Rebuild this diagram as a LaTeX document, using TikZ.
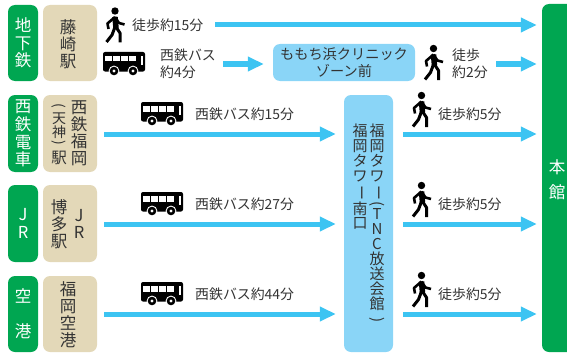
\documentclass[tikz,border=0pt]{standalone}
\usepackage{fontspec}
\setmainfont{Noto Sans CJK JP}
\usetikzlibrary{arrows.meta}
\definecolor{linegreen}{HTML}{00A651}
\definecolor{stationtan}{HTML}{E3D8B8}
\definecolor{flowblue}{HTML}{3CC4F2}
\definecolor{stopblue}{HTML}{8AD5F7}
\definecolor{inkgray}{HTML}{333333}
\newcommand{\tatechar}[1]{\rotatebox[origin=c]{-90}{#1}}
\lineskiplimit=-100pt
\tikzset{
  linebox/.style={fill=linegreen, text=white, rounded corners=7pt, inner sep=0pt, align=center, font=\fontsize{16.5}{17.7}\selectfont},
  stationbox/.style={fill=stationtan, rounded corners=7pt, inner sep=0pt},
  stopbox/.style={fill=stopblue, rounded corners=7pt, inner sep=0pt},
  coltext/.style={text=inkgray, inner sep=0pt, align=center, font=\fontsize{16.5}{17}\selectfont},
  towertext/.style={text=inkgray, inner sep=0pt, anchor=north, align=center, font=\fontsize{15}{15}\selectfont},
  timetext/.style={text=inkgray, inner sep=0pt, anchor=west, align=left, font=\fontsize{13.9}{17}\selectfont},
  flow/.style={->, line width=5pt, draw=flowblue},
  walker/.pic={
    \fill[black] (0,-14) circle (3.7);
    \draw[black, line width=5.5pt] (0,-8) -- (1,3);
    \draw[black, line width=2.6pt, line join=round] (0,-8) -- (-7.5,-1.5) -- (-6.5,4);
    \draw[black, line width=2.6pt, line join=round] (0,-8) -- (4,-2) -- (9.5,-0.5);
    \draw[black, line width=3pt, line join=round] (1,2) -- (5,8) -- (5,17.5);
    \draw[black, line width=3pt, line join=round] (0,2) -- (-3,10) -- (-8.5,17);
  },
  bus/.pic={
    \fill[black, rounded corners=2pt] (-21,-12) rectangle (21,7.5);
    \fill[white] (-19,-8) rectangle (-12.5,-2.5);
    \fill[white] (-11,-8) rectangle (-4.5,-2.5);
    \fill[white] (-3,-8) rectangle (3.5,-2.5);
    \fill[white] (5,-8) rectangle (11.5,-2.5);
    \fill[white] (16.5,-8) rectangle (18.5,1);
    \fill[white] (-10,7) circle (5.4);
    \fill[white] (9,7) circle (5.4);
    \fill[black] (-10,7) circle (4.3);
    \fill[black] (9,7) circle (4.3);
    \fill[white] (-10,7) circle (1.6);
    \fill[white] (9,7) circle (1.6);
  }
}
\begin{document}
\begin{tikzpicture}[x=1pt, y=-1pt, >={Triangle[length=16pt,width=14pt]}]

    \useasboundingbox (0,0) rectangle (567,353);
    \clip (0,0) rectangle (567,353);

    % Main building on the right
    \node[fill=linegreen, rounded corners=7pt, minimum width=40pt, minimum height=348pt, inner sep=0pt] (honkan) at (562,178) {};
    \node[text=white, inner sep=0pt, align=center, font=\fontsize{16.5}{25}\selectfont] (honkanlabel) at (557,180) {本\\館};

    % Line names
    \node[linebox, minimum width=30pt, minimum height=76pt] (subway) at (23,43) {地\\下\\鉄};
    \node[linebox, minimum width=30pt, minimum height=77pt] (nishitetsu) at (23,133.5) {西\\鉄\\電\\車};
    \node[linebox, minimum width=30pt, minimum height=77pt] (jr) at (23,223.5) {J\\R};
    \node[linebox, minimum width=30pt, minimum height=76pt, font=\fontsize{16.5}{35}\selectfont] (airport) at (23,314) {空\\港};

    % Stations
    \node[stationbox, minimum width=54pt, minimum height=76pt] (fujisaki) at (70,43) {};
    \node[coltext] (fujisakilabel) at (68,44) {藤\\崎\\駅};
    \node[stationbox, minimum width=54pt, minimum height=77pt] (tenjin) at (70,133.5) {};
    \node[coltext] (tenjinright) at (79,133) {西\\鉄\\福\\岡};
    \node[coltext, font=\fontsize{14}{13.5}\selectfont] (tenjinleft) at (59,134) {\tatechar{(}\\天\\神\\[-3pt]\tatechar{)}\\[2pt]{\fontsize{15.5}{13.5}\selectfont 駅}};
    \node[stationbox, minimum width=54pt, minimum height=77pt] (hakata) at (70,223.5) {};
    \node[coltext] (hakataleft) at (59,224) {博\\多\\駅};
    \node[coltext] (hakataright) at (79,224) {J\\R};
    \node[stationbox, minimum width=54pt, minimum height=76pt] (fukuokaair) at (70,314) {};
    \node[coltext] (fukuokaairlabel) at (68,314.5) {福\\岡\\空\\港};

    % Bus stops
    \node[stopbox, minimum width=142pt, minimum height=37pt] (momochi) at (344,62.5) {};
    \node[text=inkgray, inner sep=0pt, align=center, font=\fontsize{14.2}{17}\selectfont] (momochilabel) at (344,63) {ももち浜クリニック\\ゾーン前};
    \node[stopbox, minimum width=49pt, minimum height=257pt] (tower) at (368.5,223.5) {};
    \node[towertext] (towerright) at (377,124) {福\\岡\\タ\\ワ\\[-1pt]\tatechar{ー}\\[-2pt]\tatechar{(}\\[-4pt]T\\N\\C\\放\\送\\会\\館\\\tatechar{)}};
    \node[towertext] (towerleft) at (360,124) {福\\岡\\タ\\ワ\\[-1pt]\tatechar{ー}\\[4pt]南\\[-1pt]口};

    % Start points of the arrows
    \coordinate (subwaywalk) at (215,25);
    \coordinate (subwaybus) at (223,64);
    \coordinate (momochiwalk) at (496,64);
    \coordinate (nishitetsubus) at (104,134);
    \coordinate (jrbus) at (104,224);
    \coordinate (airportbus) at (104,314);
    \coordinate (nishitetsuwalk) at (403,134);
    \coordinate (jrwalk) at (403,224);
    \coordinate (airportwalk) at (403,314);

    % Arrows
    \draw[flow, shorten >=5pt] (subwaywalk) -- (subwaywalk -| honkan.west);
    \draw[flow, shorten >=9pt] (subwaybus) -- (subwaybus -| momochi.west);
    \draw[flow, shorten >=5pt] (momochiwalk) -- (momochiwalk -| honkan.west);
    \draw[flow, shorten >=8pt] (nishitetsubus) -- (nishitetsubus -| tower.west);
    \draw[flow, shorten >=8pt] (jrbus) -- (jrbus -| tower.west);
    \draw[flow, shorten >=8pt] (airportbus) -- (airportbus -| tower.west);
    \draw[flow, shorten >=5pt] (nishitetsuwalk) -- (nishitetsuwalk -| honkan.west);
    \draw[flow, shorten >=5pt] (jrwalk) -- (jrwalk -| honkan.west);
    \draw[flow, shorten >=5pt] (airportwalk) -- (airportwalk -| honkan.west);

    % Icons
    \pic at (115,25) {walker};
    \pic at (433.5,62.5) {walker};
    \pic at (421.5,109.5) {walker};
    \pic at (421.5,199.5) {walker};
    \pic at (421.5,289.5) {walker};
    \pic at (124,64) {bus};
    \pic at (162,114) {bus};
    \pic at (162,204) {bus};
    \pic at (162,294) {bus};

    % Times
    \node[timetext] (timeone) at (132,25) {徒歩約15分};
    \node[timetext] (timetwo) at (160,64) {西鉄バス\\約4分};
    \node[timetext] (timethree) at (452,64) {徒歩\\約2分};
    \node[timetext] (timefour) at (195,114) {西鉄バス約15分};
    \node[timetext] (timefive) at (195,204) {西鉄バス約27分};
    \node[timetext] (timesix) at (195,294) {西鉄バス約44分};
    \node[timetext] (timeseven) at (438,114) {徒歩約5分};
    \node[timetext] (timeeight) at (438,204) {徒歩約5分};
    \node[timetext] (timenine) at (438,294) {徒歩約5分};

\end{tikzpicture}
\end{document}
